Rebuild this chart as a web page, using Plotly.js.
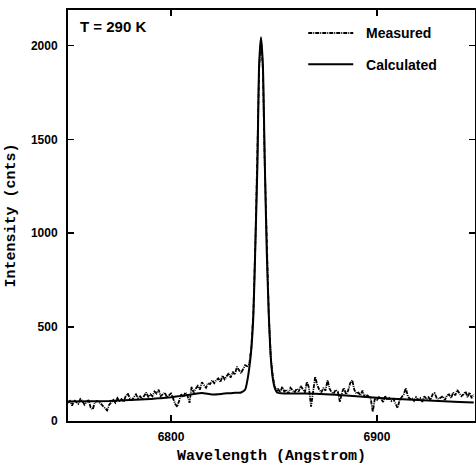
<!DOCTYPE html>
<html><head><meta charset="utf-8">
<script src="https://cdn.plot.ly/plotly-3.0.1.min.js"></script>
<style>html,body{margin:0;padding:0;background:#fff}#c{width:476px;height:466px}</style>
</head><body><div id="c"></div>
<script>
// Measured spectrum (wavelength in Angstrom, intensity in counts)
const measWl = [
 6750,6751,6752,6753,6754,6755,6756,6757,6758,6759,6760,
 6761,6762,6763,6764,6765,6766,6767,6768,6769,6770,
 6771,6772,6773,6774,6775,6776,6777,6778,6779,6780,
 6781,6782,6783,6784,6785,6786,6787,6788,6789,6790,
 6791,6792,6793,6794,6795,6796,6797,6798,6799,6800,
 6801,6802,6803,6804,6805,6806,6807,6808,6809,6810,
 6811,6812,6813,6814,6815,6816,6817,6818,6819,6820,
 6821,6822,6823,6824,6825,6826,6827,6828,6829,6830,
 6831,6832,6833,6834,6835,6836,6837,6838,
 6839,6840,6841,6842,6842.8,6843.7,6844.6,6845.5,6846.5,6847.5,6848.5,6849.5,6850.5,6851.5,
 6852,6853,6854,6855,6856,6857,6858,6859,6860,
 6861,6862,6863,6864,6865,6866,6867,6868,6869,6870,
 6871,6872,6873,6874,6875,6876,6877,6878,6879,6880,
 6881,6882,6883,6884,6885,6886,6887,6888,6889,6890,
 6891,6892,6893,6894,6895,6896,6897,6898,6899,6900,
 6901,6902,6903,6904,6905,6906,6907,6908,6909,6910,
 6911,6912,6913,6914,6915,6916,6917,6918,6919,6920,
 6921,6922,6923,6924,6925,6926,6927,6928,6929,6930,
 6931,6932,6933,6934,6935,6936,6937,6938,6939,6940,
 6941,6942,6943,6944,6945,6946,6947
];
const measI = [
 95,105,80,110,100,90,115,105,85,100,110,
 70,60,95,105,100,90,80,65,55,85,
 100,110,95,120,105,115,100,130,145,120,
 110,125,140,120,130,115,135,150,125,140,
 130,155,145,165,130,140,150,125,135,145,
 120,90,74,110,140,125,150,135,95,180,
 150,170,185,165,205,190,175,200,195,215,
 200,216,225,205,240,220,235,253,230,260,
 245,287,270,253,275,296,290,300,
 390,580,960,1400,1880,2035,1880,1380,890,560,330,230,175,160,
 170,150,180,155,165,145,175,160,150,
 170,155,185,165,150,207,175,74,160,234,
 190,165,150,175,160,216,170,150,145,165,
 155,100,150,175,140,160,200,216,165,145,
 150,135,160,125,140,130,115,47,120,110,
 125,115,100,130,110,120,105,115,90,67,
 110,125,140,173,130,115,120,105,125,110,
 120,100,130,115,125,110,140,147,120,115,
 125,130,110,135,140,120,150,135,163,145,
 130,140,155,125,150,120,140
];
// Calculated spectrum
const calcWl = [6750,6760,6770,6780,6790,6795,6800,6805,6810,6815,6820,6825,6830,6834,6836,6837,
 6838,6839,6840,6841,6842,6842.8,6843.7,6844.6,6845.5,6846.5,6847.5,6848.5,6849.5,6850.5,6851.5,
 6855,6860,6870,6880,6890,6900,6910,6920,6930,6940,6947];
const calcI = [102,103,105,110,115,120,125,132,140,148,140,143,148,150,165,210,
 280,380,560,950,1380,1900,2045,1900,1400,900,560,330,220,170,150,
 145,145,143,138,130,122,115,110,105,100,97];

const traces = [
 {x: measWl, y: measI, type:'scatter', mode:'lines', name:'\u00a0\u00a0Measured', legendgroup:'a',
  line:{color:'#000', width:1.8, dash:'4px,1px,1px,1px'}},
 {x: calcWl, y: calcI, type:'scatter', mode:'lines', name:'\u00a0\u00a0Calculated', legendgroup:'b',
  line:{color:'#000', width:2, shape:'spline', smoothing:0.6}}
];
const tickFont = {family:'Liberation Sans, Arial, sans-serif', size:12, color:'#000', weight:'bold'};
const titleFont = {family:'Liberation Mono, Courier New, monospace', size:15, color:'#000', weight:'bold'};
const layout = {
 width:476, height:466,
 margin:{l:68, r:1, t:10, b:45},
 paper_bgcolor:'#fff', plot_bgcolor:'#fff',
 showlegend:true,
 legend:{x:0.578, y:0.982, xanchor:'left', yanchor:'top', bgcolor:'rgba(0,0,0,0)',
   font:{family:'Liberation Sans, Arial, sans-serif', size:14, color:'#000', weight:'bold'},
   traceorder:'grouped', tracegroupgap:10, itemwidth:45},
 xaxis:{range:[6750,6947.6], tickvals:[6800,6900], ticktext:['6800','6900'],
   ticks:'inside', ticklen:6, tickwidth:1.5, tickcolor:'#000',
   showline:true, linecolor:'#000', linewidth:2, mirror:'ticks',
   showgrid:false, zeroline:false, tickfont:tickFont, ticklabelstandoff:4,
   title:{text:'Wavelength (Angstrom)', font:titleFont, standoff:6}},
 yaxis:{range:[-2,2190], tickvals:[0,500,1000,1500,2000], ticktext:['0','500','1000','1500','2000'],
   ticks:'inside', ticklen:6, tickwidth:1.5, tickcolor:'#000',
   showline:true, linecolor:'#000', linewidth:2, mirror:'ticks',
   showgrid:false, zeroline:false, tickfont:tickFont, ticklabelstandoff:6,
   title:{text:'Intensity (cnts)', font:titleFont, standoff:12}},
 annotations:[{text:'T = 290 K', xref:'paper', yref:'paper', x:0.025, y:0.96,
   xanchor:'left', yanchor:'middle', showarrow:false,
   font:{family:'Liberation Sans, Arial, sans-serif', size:15, color:'#000', weight:'bold'}}]
};
Plotly.newPlot('c', traces, layout, {displayModeBar:false, staticPlot:true});
</script></body></html>
